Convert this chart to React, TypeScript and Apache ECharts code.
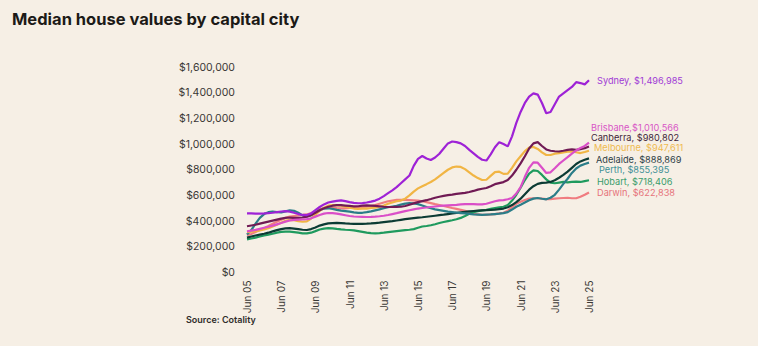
import React, { useEffect, useRef } from "react";
import * as echarts from "echarts";

// Quarterly median house values (thousands of dollars), Jun 2005 – Jun 2025
const sydney = [
  461, 460, 458, 459, 460, 462, 465, 470, 475, 478, 474, 465, 455, 448, 447, 460,
  485, 510, 530, 545, 552, 558, 562, 556, 548, 542, 539, 540, 545, 552, 560, 575,
  595, 618, 640, 665, 695, 725, 755, 830, 885, 907, 888, 876, 895, 925, 965, 1005,
  1020, 1015, 1005, 985, 955, 928, 900, 878, 872, 920, 975, 1015, 1000, 982, 1060, 1165,
  1250, 1320, 1370, 1395, 1385, 1320, 1240, 1250, 1310, 1370, 1395, 1420, 1445, 1482, 1475, 1465,
  1496.985,
];
const brisbane = [
  320, 326, 332, 340, 348, 356, 365, 375, 385, 396, 405, 410, 412, 413, 415, 422,
  435, 448, 458, 463, 462, 458, 452, 446, 440, 436, 434, 433, 432, 433, 435, 438,
  442, 448, 455, 462, 470, 478, 485, 492, 498, 502, 506, 510, 514, 518, 521, 523,
  525, 527, 530, 532, 533, 532, 530, 530, 535, 545, 555, 562, 564, 570, 580, 615,
  665, 745, 815, 858, 855, 815, 775, 780, 812, 845, 872, 898, 925, 950, 970, 985,
  1010.566,
];
const canberra = [
  360, 366, 372, 380, 388, 396, 404, 412, 420, 425, 428, 426, 425, 428, 435, 448,
  465, 485, 500, 512, 520, 525, 524, 521, 518, 515, 516, 520, 522, 520, 518, 515,
  512, 510, 510, 511, 512, 518, 528, 538, 548, 556, 563, 572, 582, 590, 597, 603,
  607, 612, 616, 620, 627, 635, 645, 652, 658, 672, 688, 696, 704, 720, 755, 800,
  850, 905, 965, 1005, 1015, 985, 958, 948, 944, 942, 948, 955, 958, 955, 960, 968,
  980.802,
];
const melbourne = [
  315, 318, 322, 328, 335, 345, 358, 372, 388, 402, 410, 408, 400, 395, 398, 420,
  450, 480, 505, 520, 525, 522, 520, 512, 505, 498, 495, 497, 498, 502, 505, 512,
  522, 535, 545, 555, 560, 575, 600, 630, 655, 672, 688, 705, 725, 750, 775, 800,
  818, 825, 822, 805, 780, 755, 735, 720, 722, 752, 782, 785, 768, 770, 815, 865,
  905, 945, 972, 978, 962, 935, 915, 915, 925, 930, 935, 940, 942, 936, 930, 938,
  947.611,
];
const adelaide = [
  272, 280, 288, 295, 302, 310, 320, 330, 338, 344, 345, 342, 338, 333, 331, 338,
  350, 365, 375, 382, 385, 386, 385, 382, 380, 379, 378, 379, 380, 382, 385, 388,
  392, 396, 400, 405, 410, 415, 419, 423, 427, 430, 434, 438, 442, 446, 450, 455,
  460, 464, 468, 472, 476, 479, 482, 484, 485, 487, 490, 494, 498, 508, 525, 548,
  575, 610, 645, 672, 690, 698, 700, 705, 718, 738, 760, 785, 815, 845, 865, 878,
  888.869,
];
const perth = [
  295, 330, 380, 425, 455, 470, 475, 470, 468, 476, 484, 480, 465, 445, 436, 445,
  465, 485, 498, 500, 495, 488, 482, 478, 474, 468, 464, 465, 470, 476, 484, 492,
  500, 508, 514, 520, 528, 536, 540, 538, 532, 522, 510, 500, 492, 486, 480, 474,
  470, 466, 463, 460, 456, 452, 450, 448, 450, 452, 455, 458, 462, 470, 490, 512,
  528, 545, 562, 575, 580, 574, 570, 582, 605, 645, 690, 730, 775, 810, 832, 845,
  855.395,
];
const hobart = [
  258, 265, 272, 280, 288, 295, 302, 310, 316, 318, 318, 315, 310, 305, 304, 310,
  322, 335, 342, 345, 344, 340, 336, 333, 331, 328, 322, 316, 310, 306, 305, 307,
  310, 314, 318, 322, 326, 330, 333, 338, 348, 358, 362, 368, 376, 385, 393, 400,
  407, 415, 425, 440, 458, 470, 478, 484, 488, 495, 502, 508, 512, 525, 560, 605,
  660, 720, 770, 795, 790, 760, 725, 700, 695, 700, 705, 702, 705, 708, 705, 712,
  718.406,
];
const darwin = [
  290, 300, 315, 330, 345, 362, 380, 396, 410, 425, 435, 440, 445, 448, 452, 462,
  478, 492, 502, 505, 505, 502, 500, 500, 502, 505, 508, 510, 512, 518, 525, 535,
  545, 555, 560, 565, 566, 565, 564, 562, 560, 555, 548, 540, 532, 525, 518, 510,
  502, 495, 488, 480, 470, 460, 452, 448, 448, 452, 455, 460, 465, 480, 510, 535,
  550, 565, 575, 578, 578, 575, 572, 572, 575, 578, 580, 582, 578, 578, 590, 605,
  622.838,
];

const quarterNames = ["Jun", "Sep", "Dec", "Mar"];
const categories: string[] = [];
for (let i = 0; i < sydney.length; i++) {
  const yr = 2005 + Math.floor(i / 4) + (i % 4 === 3 ? 1 : 0);
  categories.push(quarterNames[i % 4] + " " + String(yr % 100).padStart(2, "0"));
}
const yTicks = [0, 200000, 400000, 600000, 800000, 1000000, 1200000, 1400000, 1600000];

const cities = [
  { name: "Darwin", data: darwin, color: "#f07c80", label: "#e6737b", dy: 0, dist: 8 },
  { name: "Hobart", data: hobart, color: "#1f9a5e", label: "#3a9c6c", dy: 1, dist: 8 },
  { name: "Adelaide", data: adelaide, color: "#0c3b34", label: "#2d4046", dy: 1, dist: 7 },
  { name: "Perth", data: perth, color: "#2b7d88", label: "#3f8f96", dy: 7, dist: 10 },
  { name: "Melbourne", data: melbourne, color: "#f1b544", label: "#efba50", dy: -3, dist: 5 },
  { name: "Canberra", data: canberra, color: "#701a54", label: "#3e2538", dy: -9, dist: 2 },
  { name: "Brisbane", data: brisbane, color: "#da4fc8", label: "#d856c5", dy: -15, dist: 2, noSpace: true },
  { name: "Sydney", data: sydney, color: "#9e22d6", label: "#a03ad6", dy: 0, dist: 8 },
];

const FONT = "Inter, 'Noto Sans', sans-serif";
const fmt = (v: number) => "$" + Math.round(v).toLocaleString("en-US");

export default function App() {
  const ref = useRef<HTMLDivElement>(null);
  useEffect(() => {
    document.body.style.margin = "0";
    const chart = echarts.init(ref.current!, undefined, { renderer: "svg" });
    chart.setOption({
      animation: false,
      backgroundColor: "#f6efe5",
      textStyle: { fontFamily: FONT },
      title: {
        text: "Median house values by capital city",
        left: 7,
        top: 5,
        textStyle: { fontFamily: FONT, fontSize: 16.5, fontWeight: 700, color: "#1c1a17" },
      },
      graphic: [
        {
          type: "text",
          left: 186,
          top: 315,
          style: { text: "Source: Cotality", font: "600 9px " + FONT, fill: "#2f2d2a" },
        },
      ],
      grid: { left: 247, right: 169, top: 67, bottom: 73.5 },
      xAxis: {
        type: "category",
        data: categories,
        boundaryGap: false,
        axisLine: { show: false },
        axisTick: { show: false },
        splitLine: { show: false },
        axisLabel: {
          interval: (i: number) => i % 8 === 0,
          rotate: 90,
          margin: 8,
          fontSize: 10,
          color: "#3a3835",
          fontFamily: FONT,
        },
      },
      yAxis: {
        type: "value",
        min: 0,
        max: 1600000,
        interval: 200000,
        axisLine: { show: false },
        axisTick: { show: false },
        splitLine: { show: false },
        axisLabel: {
          margin: 12,
          fontSize: 10.5,
          color: "#3a3835",
          fontFamily: FONT,
          formatter: (v: number) => (yTicks.includes(v) ? fmt(v) : ""),
        },
      },
      series: cities.map((c) => ({
        type: "line",
        name: c.name,
        data: c.data.map((v) => v * 1000),
        showSymbol: false,
        symbol: "none",
        lineStyle: { color: c.color, width: 2.2 },
        itemStyle: { color: c.color },
        endLabel: {
          show: true,
          distance: c.dist,
          offset: [0, c.dy],
          color: c.label,
          fontSize: 9.2,
          lineHeight: 9,
          fontFamily: FONT,
          formatter: () => c.name + (c.noSpace ? "," : ", ") + fmt(c.data[c.data.length - 1] * 1000),
        },
      })),
    });
    return () => chart.dispose();
  }, []);
  return <div ref={ref} style={{ width: 758, height: 346 }} />;
}
